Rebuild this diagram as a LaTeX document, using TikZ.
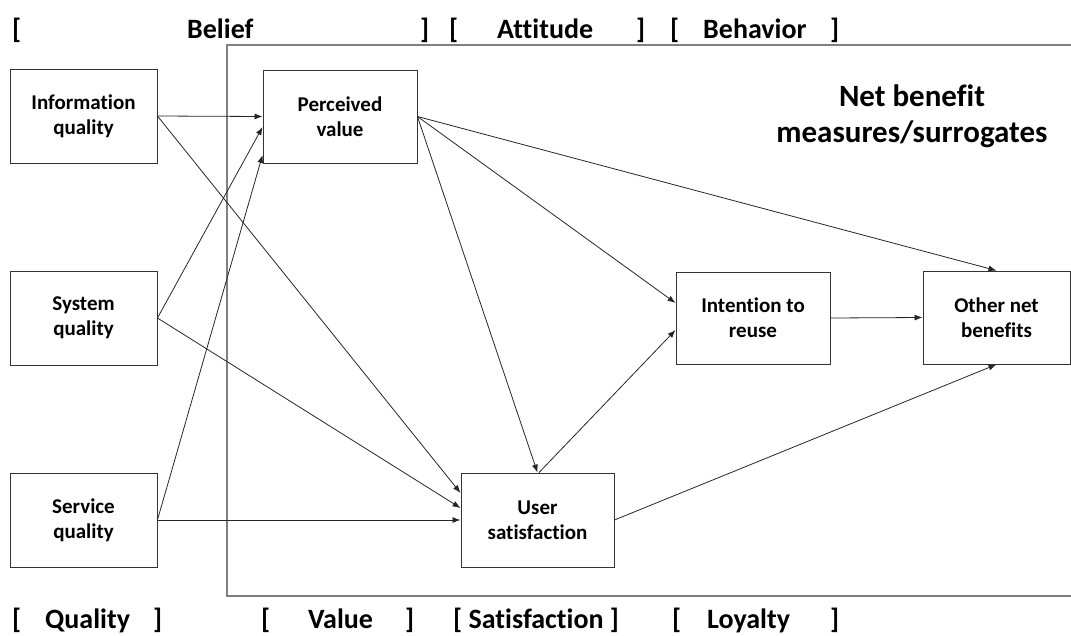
\documentclass[tikz,border=0pt]{standalone}
\usepackage{fontspec}
\setmainfont{Carlito}[Ligatures=CommonOff]
\usetikzlibrary{arrows.meta,calc}
\begin{document}
\begin{tikzpicture}[x=1pt,y=-1pt,
  box/.style={draw=black!80, line width=0.9pt, align=center, inner sep=0pt,
    font=\fontsize{21}{25}\selectfont\bfseries},
  link/.style={draw=black!85, line width=0.8pt, -{Latex[length=8pt,width=6pt]}},
  frame/.style={draw=black!50, line width=1.6pt},
  tag/.style={anchor=base west, inner sep=0pt, font=\fontsize{28}{32}\selectfont\bfseries},
  heading/.style={align=center, inner sep=0pt, font=\fontsize{31}{36}\selectfont\bfseries}]
\useasboundingbox (0,0) rectangle (1071,635);

% open frame around the net-benefit side
\coordinate (fTR) at (1071,45);
\coordinate (fTL) at (227,45);
\coordinate (fBL) at (227,596);
\coordinate (fBR) at (1071,596);
\draw[frame] (fTR) -- (fTL) -- (fBL) -- (fBR);

% construct boxes
\node[box, minimum width=147pt, minimum height=94pt] (info) at (83.5,116) {Information\\quality};
\node[box, minimum width=147pt, minimum height=94pt] (sys)  at (83.5,318) {System\\quality};
\node[box, minimum width=147pt, minimum height=94pt] (serv) at (83.5,520) {Service\\quality};
\node[box, minimum width=154pt, minimum height=93pt] (pv)   at (340,116.5) {Perceived\\value};
\node[box, minimum width=153pt, minimum height=94pt] (us)   at (537.5,520) {User\\satisfaction};
\node[box, minimum width=154pt, minimum height=92pt] (int)  at (753,318) {Intention to\\reuse};
\node[box, minimum width=147pt, minimum height=93pt] (onb)  at (996.5,317.5) {Other net\\benefits};

\node[heading] (nb) at (912,116) {Net benefit\\measures/surrogates};

% paths between constructs
\draw[link] (info.east) -- (pv.west);
\draw[link] (info.east) -- ($(us.west)+(0,-27)$);
\draw[link] (sys.east)  -- ($(pv.west)+(0,10.5)$);
\draw[link] (sys.east)  -- ($(us.west)+(0,-12)$);
\draw[link] (serv.east) -- ($(pv.west)+(0,38.5)$);
\draw[link] (serv.east) -- (us.west);
\draw[link] (pv.east)   -- (us.north);
\draw[link] (pv.east)   -- ($(int.west)+(0,-15)$);
\draw[link] (pv.east)   -- (onb.north);
\draw[link] ($(us.north)+(1.5,0)$) -- ($(int.west)+(0,12)$);
\draw[link] (us.east)   -- (onb.south);
\draw[link] (int.east)  -- (onb.west);

% stage labels, top row
\node[tag] (t1) at (12,38) {[};
\node[tag] (t2) at (187,38) {Belief};
\node[tag] (t3) at (420,38) {]};
\node[tag] (t4) at (449,38) {[};
\node[tag] (t5) at (497,38) {Attitude};
\node[tag] (t6) at (636,38) {]};
\node[tag] (t7) at (670,38) {[};
\node[tag] (t8) at (703,38) {Behavior};
\node[tag] (t9) at (830,38) {]};

% stage labels, bottom row
\node[tag] (b1) at (12,628) {[};
\node[tag] (b2) at (45,628) {Quality};
\node[tag] (b3) at (153,628) {]};
\node[tag] (b4) at (261,628) {[};
\node[tag] (b5) at (308,628) {Value};
\node[tag] (b6) at (405,628) {]};
\node[tag] (b7) at (453,628) {[ Satisfaction ]};
\node[tag] (b8) at (672,628) {[};
\node[tag] (b9) at (707,628) {Loyalty};
\node[tag] (b10) at (830,628) {]};
\end{tikzpicture}
\end{document}
